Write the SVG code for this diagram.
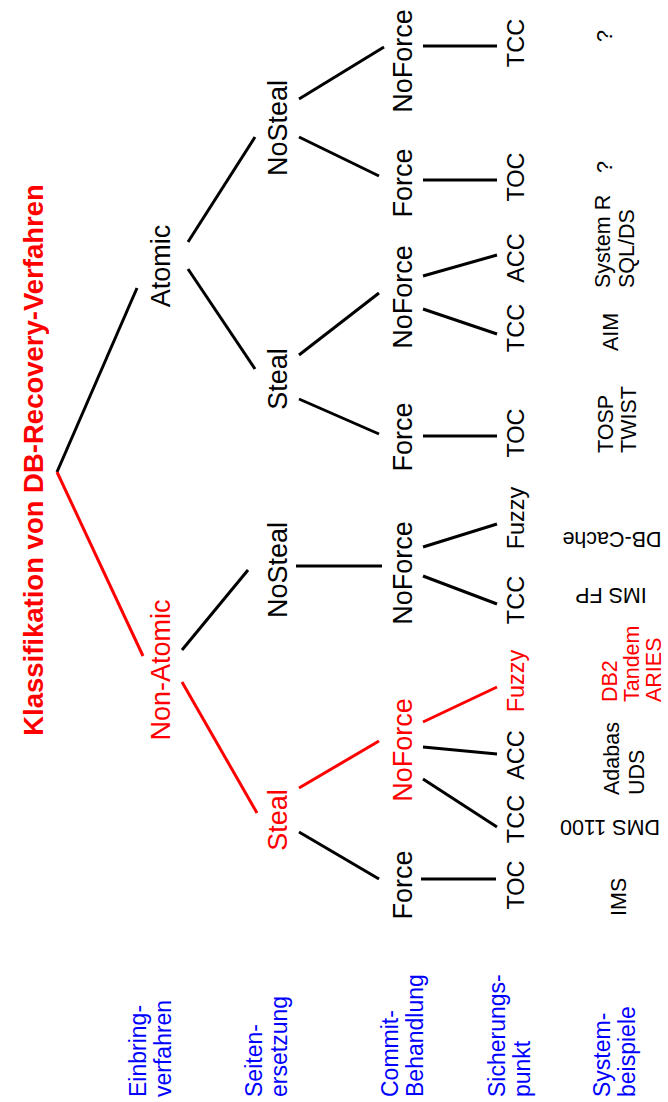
<svg xmlns="http://www.w3.org/2000/svg" width="668" height="1102" viewBox="0 0 668 1102">
<style>
text{font-family:"Liberation Sans",Arial,sans-serif;fill:#000}
.title{font-size:27.5px;font-weight:bold;fill:#ff0000;text-anchor:middle}
.n{font-size:27px;text-anchor:middle}
.l{font-size:23.5px;text-anchor:middle}
.s{font-size:21.5px;text-anchor:start}
.sm{font-size:21.5px;text-anchor:middle}
.b{font-size:23px;fill:#0000ff;text-anchor:start}
.red{fill:#ff0000}
.e{stroke:#000;stroke-width:3;fill:none}
.er{stroke:#ff0000;stroke-width:3;fill:none}
</style>
<rect width="668" height="1102" fill="#fff"/>
<g id="title"><text class="title" transform="translate(43,460) rotate(-90)">Klassifikation von DB-Recovery-Verfahren</text></g>
<g id="connectors">
<line class="e" x1="57" y1="472" x2="137" y2="288"/>
<line class="er" x1="57" y1="472" x2="143" y2="656"/>
<line class="e" x1="188" y1="242" x2="255" y2="137"/>
<line class="e" x1="188" y1="269" x2="255" y2="369"/>
<line class="e" x1="299" y1="99" x2="384" y2="47"/>
<line class="e" x1="299" y1="137" x2="379" y2="176"/>
<line class="e" x1="299" y1="355" x2="379" y2="293"/>
<line class="e" x1="299" y1="399" x2="379" y2="434"/>
<line class="e" x1="423" y1="46" x2="497" y2="46"/>
<line class="e" x1="423" y1="180" x2="497" y2="180"/>
<line class="e" x1="423" y1="276" x2="497" y2="255"/>
<line class="e" x1="423" y1="309" x2="497" y2="334"/>
<line class="e" x1="423" y1="436" x2="497" y2="436"/>
<line class="e" x1="182" y1="650" x2="248" y2="570"/>
<line class="er" x1="182" y1="682" x2="257" y2="813"/>
<line class="e" x1="296" y1="566" x2="382" y2="566"/>
<line class="e" x1="423" y1="547" x2="497" y2="524"/>
<line class="e" x1="423" y1="576" x2="497" y2="604"/>
<line class="er" x1="299" y1="788" x2="379" y2="741"/>
<line class="e" x1="299" y1="832" x2="379" y2="879"/>
<line class="er" x1="423" y1="722" x2="497" y2="687"/>
<line class="e" x1="423" y1="747" x2="497" y2="754"/>
<line class="e" x1="423" y1="779" x2="497" y2="827"/>
<line class="e" x1="421" y1="879" x2="496" y2="879"/>
</g>
<g id="n-atomic"><text class="n" transform="translate(170,266) rotate(-90)">Atomic</text></g>
<g id="n-nonatomic"><text class="n red" transform="translate(170,670) rotate(-90)">Non-Atomic</text></g>
<g id="n-a-nosteal"><text class="n" transform="translate(287,128) rotate(-90)">NoSteal</text></g>
<g id="n-a-steal"><text class="n" transform="translate(287,379) rotate(-90)">Steal</text></g>
<g id="n-na-nosteal"><text class="n" transform="translate(287,570) rotate(-90)">NoSteal</text></g>
<g id="n-na-steal"><text class="n red" transform="translate(287,820) rotate(-90)">Steal</text></g>
<g id="n-a-ns-noforce"><text class="n" transform="translate(412,61) rotate(-90)">NoForce</text></g>
<g id="n-a-ns-force"><text class="n" transform="translate(412,183) rotate(-90)">Force</text></g>
<g id="n-a-s-noforce"><text class="n" transform="translate(412,297) rotate(-90)">NoForce</text></g>
<g id="n-a-s-force"><text class="n" transform="translate(412,437) rotate(-90)">Force</text></g>
<g id="n-na-ns-noforce"><text class="n" transform="translate(412,573) rotate(-90)">NoForce</text></g>
<g id="n-na-s-noforce"><text class="n red" transform="translate(412,750) rotate(-90)">NoForce</text></g>
<g id="n-na-s-force"><text class="n" transform="translate(412,885) rotate(-90)">Force</text></g>
<g id="l1"><text class="l" transform="translate(524,43) rotate(-90)">TCC</text></g>
<g id="l2"><text class="l" transform="translate(524,177) rotate(-90)">TOC</text></g>
<g id="l3"><text class="l" transform="translate(524,258) rotate(-90)">ACC</text></g>
<g id="l4"><text class="l" transform="translate(524,328) rotate(-90)">TCC</text></g>
<g id="l5"><text class="l" transform="translate(524,433) rotate(-90)">TOC</text></g>
<g id="l6"><text class="l" transform="translate(524,518) rotate(-90)">Fuzzy</text></g>
<g id="l7"><text class="l" transform="translate(524,600) rotate(-90)">TCC</text></g>
<g id="l8"><text class="l red" transform="translate(524,681) rotate(-90)">Fuzzy</text></g>
<g id="l9"><text class="l" transform="translate(524,755) rotate(-90)">ACC</text></g>
<g id="l10"><text class="l" transform="translate(524,819) rotate(-90)">TCC</text></g>
<g id="l11"><text class="l" transform="translate(524,885) rotate(-90)">TOC</text></g>
<g id="systems">
<text class="sm" transform="translate(612,36) rotate(-90)">?</text>
<text class="sm" transform="translate(612,167) rotate(-90)">?</text>
<text class="s" transform="translate(610,288) rotate(-90)">System R</text>
<text class="s" transform="translate(634,288) rotate(-90)">SQL/DS</text>
<text class="s" transform="translate(618,351) rotate(-90)">AIM</text>
<text class="s" transform="translate(613,453) rotate(-90)">TOSP</text>
<text class="s" transform="translate(636,453) rotate(-90)">TWIST</text>
<text class="sm" transform="translate(612,532) rotate(180)">DB-Cache</text>
<text class="sm" transform="translate(611,588) rotate(180)">IMS FP</text>
<text class="s red" transform="translate(617,702) rotate(-90)">DB2</text>
<text class="s red" transform="translate(639,702) rotate(-90)">Tandem</text>
<text class="s red" transform="translate(661,702) rotate(-90)">ARIES</text>
<text class="s" transform="translate(619,795) rotate(-90)">Adabas</text>
<text class="s" transform="translate(644,795) rotate(-90)">UDS</text>
<text class="sm" transform="translate(610,820) rotate(180)">DMS 1100</text>
<text class="s" transform="translate(626,916) rotate(-90)">IMS</text>
</g>
<g id="legend">
<text class="b" transform="translate(146,1097) rotate(-90)">Einbring-</text>
<text class="b" transform="translate(171,1097) rotate(-90)">verfahren</text>
<text class="b" transform="translate(262,1097) rotate(-90)">Seiten-</text>
<text class="b" transform="translate(287,1097) rotate(-90)">ersetzung</text>
<text class="b" transform="translate(398,1097) rotate(-90)">Commit-</text>
<text class="b" transform="translate(423,1097) rotate(-90)">Behandlung</text>
<text class="b" transform="translate(505,1097) rotate(-90)">Sicherungs-</text>
<text class="b" transform="translate(530,1097) rotate(-90)">punkt</text>
<text class="b" transform="translate(610,1097) rotate(-90)">System-</text>
<text class="b" transform="translate(635,1097) rotate(-90)">beispiele</text>
</g>
</svg>
